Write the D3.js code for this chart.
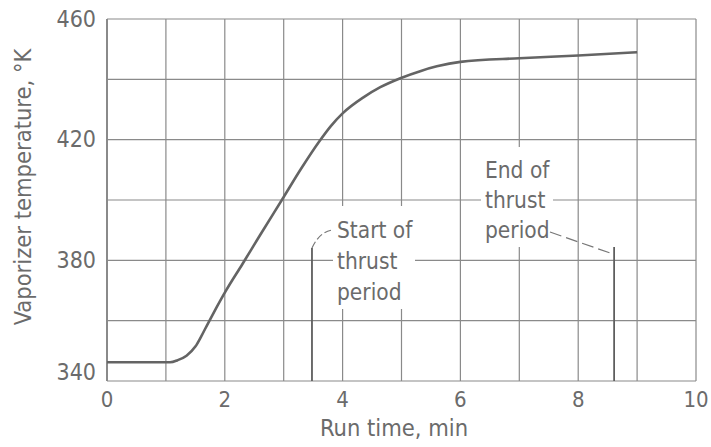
<!DOCTYPE html>
<html>
<head>
<meta charset="utf-8">
<script src="https://cdn.jsdelivr.net/npm/d3@7"></script>
<style>
  html, body { margin: 0; padding: 0; background: #fff; }
  svg { display: block; }
  text { font-family: "DejaVu Sans Condensed", "Liberation Sans Narrow", sans-serif; fill: #6b6b6b; }
</style>
</head>
<body>
<svg id="chart" width="711" height="447"></svg>
<script>
// Vaporizer temperature history over the run
const runTime = [0, 1.0, 1.07, 1.2, 1.35, 1.5, 1.6, 1.72, 1.86, 2.0, 2.3, 2.6, 3.0, 3.3, 3.6, 3.8, 4.0, 4.36, 4.64, 4.97, 5.33, 5.6, 6.0, 7.0, 8.0, 9.0];
const temperature = [346.2, 346.2, 346.2, 346.9, 348.4, 351.4, 354.8, 359.3, 364.4, 369.3, 378.8, 388.4, 401.0, 410.5, 419.3, 424.5, 428.7, 434.1, 437.4, 440.3, 442.8, 444.3, 445.8, 447.0, 447.9, 449.0];

// Axis ticks
const xTickLabels = [0, 2, 4, 6, 8, 10];
const yTickLabels = [340, 380, 420, 460];
const xGrid = [0, 1, 2, 3, 4, 5, 6, 7, 8, 9, 10];
const yGrid = [340, 360, 380, 400, 420, 440, 460];

// Thrust period markers (run time, min)
const thrustStart = 3.48;
const thrustEnd = 8.61;
const startLabel = ["Start of", "thrust", "period"];
const endLabel = ["End of", "thrust", "period"];

const svg = d3.select("#chart");
const x = d3.scaleLinear().domain([0, 10]).range([107, 696]);
const y = d3.scaleLinear().domain([340, 460]).range([381, 19]);

const gridColor = "#8a8a8a";

// Grid
const grid = svg.append("g");
grid.selectAll("line.v").data(xGrid).join("line")
  .attr("x1", d => x(d)).attr("x2", d => x(d))
  .attr("y1", y(460)).attr("y2", y(340))
  .attr("stroke", gridColor).attr("stroke-width", d => d === 0 ? 2 : 1.2);
grid.selectAll("line.h").data(yGrid).join("line")
  .attr("y1", d => y(d)).attr("y2", d => y(d))
  .attr("x1", x(0)).attr("x2", x(10))
  .attr("stroke", gridColor).attr("stroke-width", 1.2);

// Text block with the grid cleared behind it
function labelBlock(lines, left, top, lineH, boxW) {
  const h = lines.length * lineH;
  svg.append("rect").attr("x", left - 4).attr("y", top - 6)
    .attr("width", boxW).attr("height", h + 10).attr("fill", "#fff");
  const t = svg.append("text").attr("font-size", 22.5);
  lines.forEach((s, i) => {
    t.append("tspan").attr("x", left).attr("y", top + lineH * i + lineH * 0.62)
      .attr("dominant-baseline", "middle").text(s);
  });
}

// Temperature curve
const line = d3.line().x((d, i) => x(runTime[i])).y(d => y(d)).curve(d3.curveMonotoneX);
svg.append("path").datum(temperature)
  .attr("d", line).attr("fill", "none")
  .attr("stroke", "#646464").attr("stroke-width", 2.6).attr("stroke-linejoin", "round");

labelBlock(startLabel, 337, 212, 31, 82);
labelBlock(endLabel, 485, 153, 30, 72);

// Thrust markers
const markTop1 = 248, markTop2 = 247;
svg.append("line").attr("x1", x(thrustStart)).attr("x2", x(thrustStart))
  .attr("y1", markTop1).attr("y2", y(340)).attr("stroke", "#5e5e5e").attr("stroke-width", 1.8);
svg.append("line").attr("x1", x(thrustEnd)).attr("x2", x(thrustEnd))
  .attr("y1", markTop2).attr("y2", y(340)).attr("stroke", "#5e5e5e").attr("stroke-width", 1.8);

// Leaders
svg.append("path")
  .attr("d", `M${x(thrustStart)},${markTop1} Q${x(thrustStart) + 8},${231} ${333},${230}`)
  .attr("fill", "none").attr("stroke", "#777").attr("stroke-width", 1.2).attr("stroke-dasharray", "7,3");
svg.append("path")
  .attr("d", `M550,232 L${x(thrustEnd) - 4},253`)
  .attr("fill", "none").attr("stroke", "#777").attr("stroke-width", 1.2).attr("stroke-dasharray", "12,5");

// Tick labels
svg.append("g").selectAll("text").data(xTickLabels).join("text")
  .attr("x", d => x(d)).attr("y", 401).attr("text-anchor", "middle")
  .attr("dominant-baseline", "middle").attr("font-size", 22).text(d => d);
svg.append("g").selectAll("text").data(yTickLabels).join("text")
  .attr("x", 96).attr("y", d => d === 340 ? y(d) - 8 : y(d) + 1)
  .attr("text-anchor", "end").attr("dominant-baseline", "middle")
  .attr("font-size", 23).text(d => d);

// Axis titles
svg.append("text").attr("x", 394).attr("y", 429).attr("text-anchor", "middle")
  .attr("dominant-baseline", "middle").attr("font-size", 23.5).text("Run time,  min");
svg.append("text").attr("transform", "translate(24,187) rotate(-90)")
  .attr("text-anchor", "middle").attr("dominant-baseline", "middle")
  .attr("font-size", 23.5).text("Vaporizer temperature,  \u00b0K");
</script>
</body>
</html>
